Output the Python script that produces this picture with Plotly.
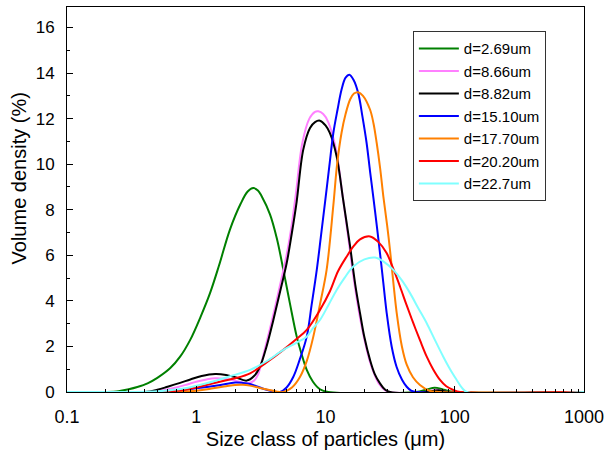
import plotly.graph_objects as go

# ---- data ----
names = ["d=2.69um", "d=8.66um", "d=8.82um", "d=15.10um", "d=17.70um", "d=20.20um", "d=22.7um"]
colors = ["#008000", "#FF80FF", "#000000", "#0000FF", "#FF8000", "#FF0000", "#80FFFF"]

x_green = [0.1, 0.2, 0.25, 0.3, 0.35, 0.42, 0.5, 0.63, 0.75, 0.9, 1.08, 1.28, 1.5, 1.82, 2.2, 2.5, 2.76, 3.0, 3.2, 3.72, 4.2, 4.72, 5.3, 5.99, 6.5, 7.16, 8.0, 9.06, 10.5, 50, 60, 70, 82, 100, 1000]
y_green = [0, 0, 0.03, 0.12, 0.22, 0.38, 0.62, 1.05, 1.55, 2.3, 3.3, 4.35, 5.55, 7.12, 8.25, 8.8, 8.95, 8.85, 8.6, 7.8, 6.75, 5.36, 3.9, 2.43, 1.7, 0.97, 0.45, 0.12, 0, 0, 0.1, 0.19, 0.1, 0, 0]

x_pink = [0.1, 0.45, 0.55, 0.7, 0.85, 1.0, 1.2, 1.4, 1.7, 2.0, 2.5, 2.8, 3.0, 3.4, 3.95, 4.45, 5.0, 5.5, 5.9, 6.6, 7.5, 8.3, 8.8, 9.6, 10.5, 12.0, 13.5, 15.3, 16.8, 18.3, 20, 22, 24, 26, 28.5, 31, 60, 72, 90, 1000]
y_pink = [0, 0, 0.08, 0.2, 0.33, 0.45, 0.55, 0.6, 0.57, 0.5, 0.38, 0.5, 0.75, 1.9, 3.4, 4.7, 6.0, 7.4, 8.7, 10.9, 12.0, 12.3, 12.32, 12.2, 11.85, 10.7, 8.7, 6.4, 4.7, 3.4, 2.3, 1.35, 0.75, 0.35, 0.1, 0, 0, 0.1, 0, 0]

x_black = [0.1, 0.4, 0.5, 0.6, 0.75, 0.9, 1.1, 1.4, 1.7, 2.0, 2.46, 2.8, 3.11, 3.5, 3.95, 4.45, 5.01, 5.5, 5.98, 6.73, 7.59, 8.3, 9.06, 10.0, 10.8, 12.2, 13.7, 15.5, 17.0, 18.5, 20.0, 22.1, 24.0, 26.4, 29.0, 31.6, 60, 75, 90, 1000]
y_black = [0, 0, 0.1, 0.23, 0.4, 0.55, 0.7, 0.79, 0.75, 0.65, 0.5, 0.7, 1.11, 2.0, 3.16, 4.4, 5.66, 7.0, 8.35, 10.64, 11.59, 11.85, 11.91, 11.7, 11.37, 10.34, 8.44, 6.39, 4.7, 3.46, 2.4, 1.41, 0.8, 0.38, 0.1, 0, 0, 0.08, 0, 0]

x_blue = [0.1, 0.5, 0.7, 1.0, 1.5, 2.0, 2.3, 2.6, 3.0, 3.4, 3.9, 4.45, 5.0, 5.64, 6.3, 7.16, 7.8, 8.56, 9.2, 9.9, 10.7, 11.5, 12.4, 13.3, 14.3, 15.3, 16.5, 17.9, 19.3, 20.8, 22.1, 23.5, 25.0, 26.4, 28.0, 29.7, 32.5, 35.5, 39.0, 42.5, 46.0, 50.8, 1000]
y_blue = [0, 0, 0.07, 0.16, 0.3, 0.42, 0.4, 0.35, 0.23, 0.12, 0.03, 0, 0.2, 0.67, 1.4, 2.43, 3.8, 5.36, 6.8, 8.29, 9.9, 11.37, 12.4, 13.27, 13.8, 13.93, 13.7, 13.13, 12.1, 10.93, 9.7, 8.5, 7.25, 6.1, 4.8, 3.5, 2.0, 1.1, 0.55, 0.23, 0.06, 0, 0]

x_orange = [0.1, 0.5, 1.0, 1.35, 1.7, 2.0, 2.3, 2.6, 3.1, 3.6, 4.1, 4.7, 5.5, 6.36, 7.2, 8.05, 9.1, 10.2, 11.5, 12.3, 13.3, 14.3, 15.5, 16.6, 17.9, 19.5, 22.1, 23.5, 24.9, 26.5, 28.0, 30.0, 31.6, 33.5, 35.5, 39.0, 42.5, 47.5, 53.8, 64, 75, 1000]
y_orange = [0, 0, 0.06, 0.16, 0.25, 0.31, 0.32, 0.28, 0.18, 0.1, 0.03, 0, 0.2, 0.67, 1.4, 2.43, 3.9, 5.36, 8.2, 10.0, 11.37, 12.2, 12.84, 13.1, 13.16, 13.0, 12.4, 11.8, 10.93, 9.8, 8.6, 7.3, 6.2, 4.8, 3.5, 2.0, 1.2, 0.65, 0.31, 0.05, 0, 0]

x_red = [0.1, 0.45, 0.7, 1.0, 1.44, 2.0, 2.61, 3.5, 4.72, 5.9, 7.16, 9.06, 10.8, 12.5, 14.6, 16.5, 18.5, 22.1, 25.5, 29.7, 33.5, 37.7, 42.5, 47.8, 54, 60.7, 68, 76.9, 86, 97.5, 110, 1000]
y_red = [0, 0, 0.05, 0.2, 0.42, 0.6, 0.82, 1.3, 1.85, 2.3, 2.73, 3.6, 4.41, 5.3, 5.95, 6.4, 6.7, 6.83, 6.6, 6.1, 5.4, 4.63, 3.8, 3.02, 2.25, 1.55, 1.0, 0.53, 0.25, 0.09, 0, 0]

x_cyan = [0.1, 0.3, 0.5, 0.8, 1.2, 1.8, 2.61, 3.5, 4.72, 5.9, 7.16, 8.0, 9.06, 10.5, 12.2, 14.0, 16.4, 20.0, 24.2, 28.5, 33.5, 39.0, 45.1, 52, 60.7, 70, 81.5, 92, 103.5, 113, 124, 1000]
y_cyan = [0, 0, 0.03, 0.15, 0.38, 0.68, 0.97, 1.35, 1.85, 2.15, 2.43, 2.8, 3.16, 3.8, 4.48, 5.0, 5.51, 5.82, 5.9, 5.7, 5.36, 4.9, 4.34, 3.7, 3.02, 2.3, 1.55, 1.0, 0.53, 0.2, 0, 0]

xs = [x_green, x_pink, x_black, x_blue, x_orange, x_red, x_cyan]
ys = [y_green, y_pink, y_black, y_blue, y_orange, y_red, y_cyan]

x_tickvals = [0.1, 1, 10, 100, 1000]
x_ticktext = ["0.1", "1", "10", "100", "1000"]
x_minor = [m * 10 ** e for e in range(-1, 3) for m in range(2, 10)]
y_tickvals = [0, 2, 4, 6, 8, 10, 12, 14, 16]
y_minor = [1, 3, 5, 7, 9, 11, 13, 15]

fig = go.Figure()
for xv, yv, nm, c in zip(xs, ys, names, colors):
    fig.add_trace(go.Scatter(x=xv, y=yv, name=nm, mode="lines",
                             line=dict(color=c, width=2, shape="spline", smoothing=1.0)))

font_family = "Arial, Liberation Sans, sans-serif"
fig.update_layout(
    width=605, height=451,
    margin=dict(l=67, r=21, t=7, b=59, autoexpand=False),
    plot_bgcolor="white", paper_bgcolor="white",
    font=dict(family=font_family, size=17, color="black"),
    showlegend=True,
    legend=dict(x=0.669, y=0.937, xanchor="left", yanchor="top",
                bgcolor="white", bordercolor="#333333", borderwidth=1,
                font=dict(size=15), tracegroupgap=0, itemwidth=40),
    annotations=[dict(text="Volume density (%)", textangle=-90, xref="paper", yref="paper",
                      x=-0.092, y=(392 - 178) / 385, xanchor="center", yanchor="middle",
                      showarrow=False, font=dict(size=20))],
)
fig.update_xaxes(type="log", range=[-1, 3], tickvals=x_tickvals, ticktext=x_ticktext,
                 ticks="inside", ticklen=6, tickwidth=1, tickcolor="black",
                 showline=True, linecolor="black", linewidth=1, mirror=True,
                 showgrid=False, zeroline=False, ticklabelstandoff=8, automargin=False,
                 tickfont=dict(size=18),
                 minor=dict(tickvals=x_minor, ticks="inside", ticklen=3, tickcolor="black", showgrid=False),
                 title=dict(text="Size class of particles (\u03bcm)", font=dict(size=20), standoff=6))
fig.update_yaxes(range=[0, 16.9], tickvals=y_tickvals, ticks="inside", ticklen=6, tickwidth=1,
                 tickcolor="black", showline=True, linecolor="black", linewidth=1, mirror=True,
                 showgrid=False, zeroline=False, ticklabelstandoff=8, automargin=False,
                 minor=dict(tickvals=y_minor, ticks="inside", ticklen=3, tickcolor="black", showgrid=False))

fig.write_html("out.html")
